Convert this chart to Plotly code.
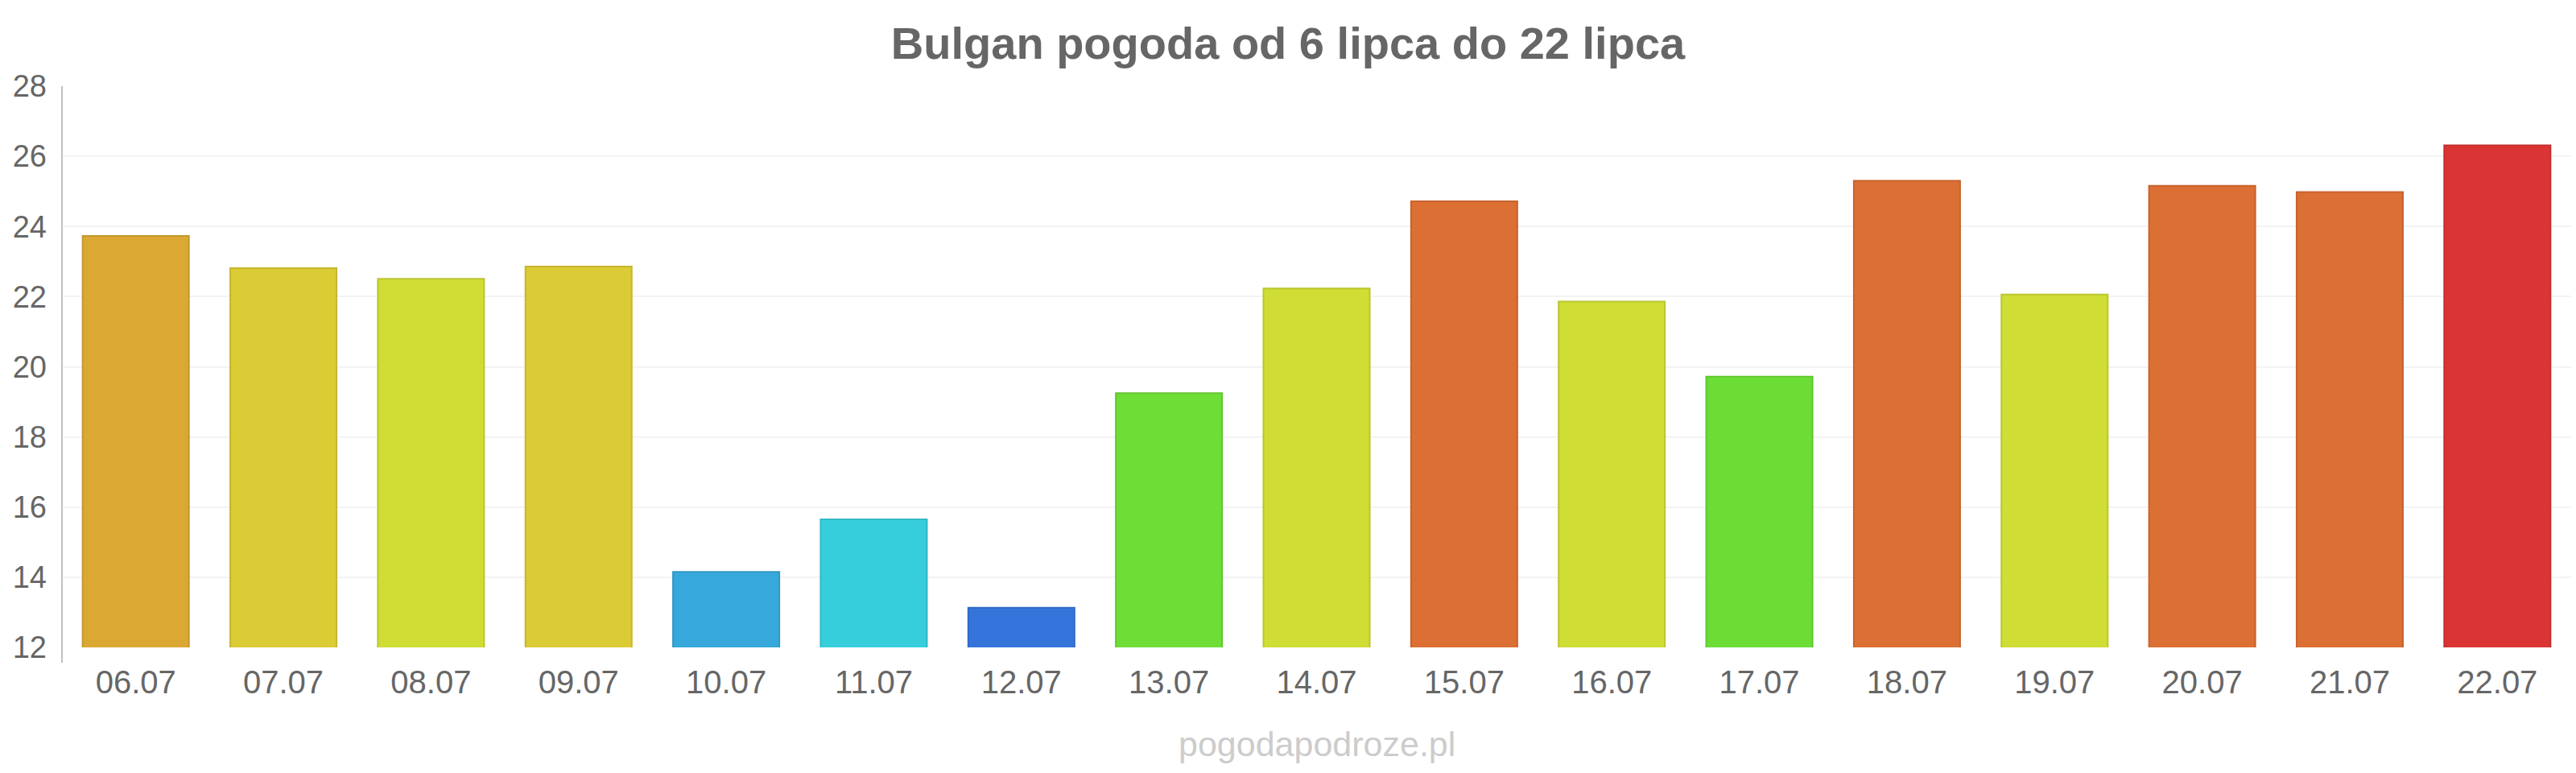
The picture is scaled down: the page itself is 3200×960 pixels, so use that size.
import plotly.graph_objects as go

categories = ["06.07", "07.07", "08.07", "09.07", "10.07", "11.07", "12.07", "13.07", "14.07",
              "15.07", "16.07", "17.07", "18.07", "19.07", "20.07", "21.07", "22.07"]
temps = [23.73, 22.81, 22.51, 22.86, 14.15, 15.65, 13.13, 19.25, 22.23,
         24.72, 21.86, 19.72, 25.30, 22.06, 25.16, 24.98, 26.31]
colors = ["#DBA834", "#DBCB34", "#CFDD35", "#DBCB34", "#36A8DB", "#36CEDB", "#3575DB", "#6EDD36", "#CFDD35",
          "#DC6F34", "#CFDD35", "#6BDD35", "#DC6F34", "#CFDD35", "#DC6F34", "#DC6F34", "#DA3434"]
y_ticks = [12, 14, 16, 18, 20, 22, 24, 26, 28]
title_text = "Bulgan pogoda od 6 lipca do 22 lipca"
watermark = "pogodapodroze.pl"


def darker(hex_color, f=0.9):
    h = hex_color.lstrip("#")
    r, g, b = (int(h[i:i + 2], 16) for i in (0, 2, 4))
    return "#%02X%02X%02X" % (int(r * f), int(g * f), int(b * f))


fig = go.Figure(go.Bar(
    x=categories,
    y=temps,
    base=0,
    marker=dict(color=colors, line=dict(color=[darker(c) for c in colors], width=2)),
    hoverinfo="x+y",
))

W, H = 3200, 960
mL, mR, mT, mB = 77, 6, 107, 156
plot_h = H - mT - mB

fig.update_layout(
    width=W, height=H,
    margin=dict(l=mL, r=mR, t=mT, b=mB),
    paper_bgcolor="white", plot_bgcolor="white",
    bargap=0.28,
    showlegend=False,
    font=dict(family="Liberation Sans, Arial, sans-serif", color="#666666"),
    title=dict(text="<b>" + title_text + "</b>", x=0.5, xref="container", xanchor="center",
               y=1 - 53 / H, yref="container", yanchor="middle",
               font=dict(size=56, color="#666666", family="Liberation Sans, Arial, sans-serif")),
    xaxis=dict(type="category", showgrid=False, showline=False, zeroline=False,
               tickfont=dict(size=40, color="#666666"), ticks="", ticklabelstandoff=16),
    yaxis=dict(range=[12, 28], tickvals=y_ticks, showgrid=True, gridcolor="#F3F3F3", gridwidth=2,
               zeroline=False, showline=False, ticks="",
               tickfont=dict(size=38, color="#666666"), ticklabelstandoff=18),
    shapes=[dict(type="line", xref="paper", yref="paper", x0=0, x1=0, y0=-19 / plot_h, y1=1,
                 line=dict(color="#C0C0C0", width=2))],
    annotations=[dict(text=watermark, xref="paper", yref="paper", x=0.5, y=(804 - 924) / plot_h,
                      xanchor="center", yanchor="middle", showarrow=False,
                      font=dict(size=43, color="#CCCCCC", family="Liberation Sans, Arial, sans-serif"))],
)

fig.write_html("out.html")
